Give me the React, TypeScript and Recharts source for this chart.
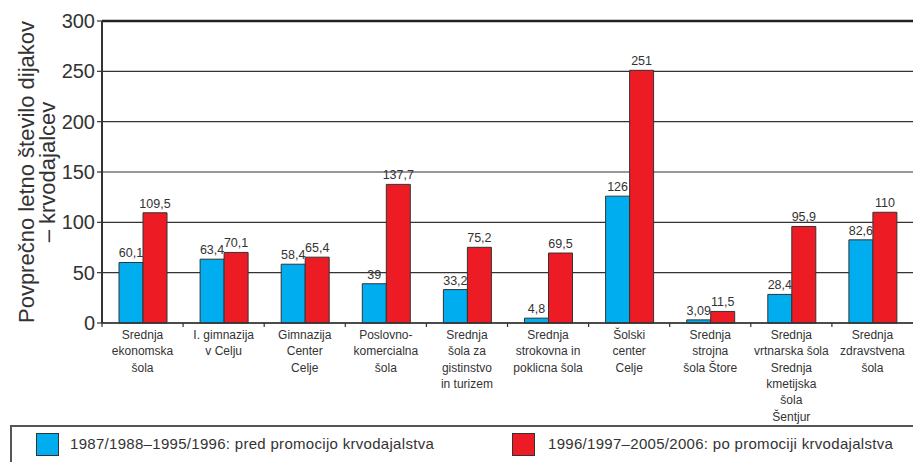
import { BarChart, Bar, XAxis, YAxis, CartesianGrid, LabelList, Legend, ReferenceLine } from "recharts";

// Average yearly number of student blood donors per school
const schools = [
  "Srednja\nekonomska\nšola",
  "I. gimnazija\nv Celju",
  "Gimnazija\nCenter\nCelje",
  "Poslovno-\nkomercialna\nšola",
  "Srednja\nšola za\ngistinstvo\nin turizem",
  "Srednja\nstrokovna in\npoklicna šola",
  "Šolski\ncenter\nCelje",
  "Srednja\nstrojna\nšola Štore",
  "Srednja\nvrtnarska šola\nSrednja\nkmetijska\nšola\nŠentjur",
  "Srednja\nzdravstvena\nšola",
];
const beforePromo = [60.1, 63.4, 58.4, 39, 33.2, 4.8, 126, 3.09, 28.4, 82.6];
const afterPromo = [109.5, 70.1, 65.4, 137.7, 75.2, 69.5, 251, 11.5, 95.9, 110];
const seriesNames = [
  "1987/1988–1995/1996: pred promocijo krvodajalstva",
  "1996/1997–2005/2006: po promociji krvodajalstva",
];
const yTicks = [0, 50, 100, 150, 200, 250, 300];
const yTitle = ["Povprečno letno število dijakov", "– krvodajalcev"];

const data = schools.map((school, i) => ({ school, before: beforePromo[i], after: afterPromo[i] }));

const W = 913;
const H = 462;
const FONT = '"Liberation Sans", Arial, Helvetica, sans-serif';
const BLUE = "#00aeef";
const RED = "#ed1c24";
const INK = "#333";
const AXIS_W = 102;
const BAND = (W - AXIS_W) / schools.length;

const fmt = (v: any) => String(v).replace(".", ",");

function SchoolTick({ x, y, payload }: any) {
  const lines = String(payload.value).split("\n");
  const bx = x - BAND / 2;
  return (
    <g>
      <line x1={bx} x2={bx} y1={y} y2={y + 4} stroke={INK} strokeWidth={1.2} />
      <text x={x} y={y + 16} textAnchor="middle" fontSize={12} fill={INK} fontFamily={FONT}>
        {lines.map((l, i) => (
          <tspan key={i} x={x} dy={i === 0 ? 0 : 16.3}>
            {l}
          </tspan>
        ))}
      </text>
    </g>
  );
}

function YTitle({ viewBox }: any) {
  const cy = viewBox.y + viewBox.height / 2;
  return (
    <g>
      {yTitle.map((t, i) => {
        const cx = 34 + i * 21;
        return (
          <text
            key={i}
            x={cx}
            y={cy}
            transform={`rotate(-90, ${cx}, ${cy})`}
            textAnchor="middle"
            fontSize={22}
            fill={INK}
            fontFamily={FONT}
          >
            {t}
          </text>
        );
      })}
    </g>
  );
}

function LegendBox() {
  const sq = (left: number, color: string) => (
    <div
      style={{
        position: "absolute",
        left,
        top: 6,
        width: 21,
        height: 21,
        background: color,
        border: `1.5px solid ${INK}`,
      }}
    />
  );
  const label = (left: number, text: string) => (
    <div
      style={{
        position: "absolute",
        left,
        top: 8,
        fontSize: 15,
        lineHeight: "18px",
        letterSpacing: 0.3,
        color: INK,
        fontFamily: FONT,
        whiteSpace: "nowrap",
      }}
    >
      {text}
    </div>
  );
  return (
    <div
      style={{
        position: "relative",
        width: W - 10,
        height: 37,
        borderTop: "2px solid #555",
        borderLeft: "2px solid #555",
        boxSizing: "border-box",
      }}
    >
      {sq(24, BLUE)}
      {label(58, seriesNames[0])}
      {sq(500, RED)}
      {label(536, seriesNames[1])}
    </div>
  );
}

export default function App() {
  return (
    <div style={{ position: "absolute", left: 0, top: 0, width: W, height: H, background: "#fff" }}>
      <BarChart
        width={W}
        height={H}
        data={data}
        margin={{ top: 21, right: 0, left: 0, bottom: 0 }}
        barSize={24}
        barGap={0}
      >
        <CartesianGrid vertical={false} stroke={INK} strokeWidth={1.2} />
        <ReferenceLine y={300} stroke="#222" strokeWidth={2.5} />
        <XAxis
          dataKey="school"
          interval={0}
          height={102}
          tickSize={0}
          tickMargin={0}
          tick={<SchoolTick />}
          axisLine={{ stroke: INK, strokeWidth: 1.5 }}
        />
        <YAxis
          width={AXIS_W}
          domain={[0, 300]}
          ticks={yTicks}
          interval={0}
          tickSize={5}
          tickMargin={2}
          tickLine={{ stroke: INK, strokeWidth: 1.2 }}
          axisLine={{ stroke: INK, strokeWidth: 2 }}
          tick={{ fontSize: 20, fill: INK, fontFamily: FONT }}
          label={{ content: <YTitle /> }}
        />
        <Legend
          verticalAlign="bottom"
          height={37}
          content={() => <LegendBox />}
          wrapperStyle={{ left: 10, bottom: 0, width: W - 10 }}
        />
        <Bar dataKey="before" name={seriesNames[0]} fill={BLUE} stroke={INK} strokeWidth={1} isAnimationActive={false}>
          <LabelList dataKey="before" position="top" offset={5} formatter={fmt} fontSize={12.5} fill={INK} fontFamily={FONT} />
        </Bar>
        <Bar dataKey="after" name={seriesNames[1]} fill={RED} stroke={INK} strokeWidth={1} isAnimationActive={false}>
          <LabelList dataKey="after" position="top" offset={5} formatter={fmt} fontSize={12.5} fill={INK} fontFamily={FONT} />
        </Bar>
      </BarChart>
    </div>
  );
}
